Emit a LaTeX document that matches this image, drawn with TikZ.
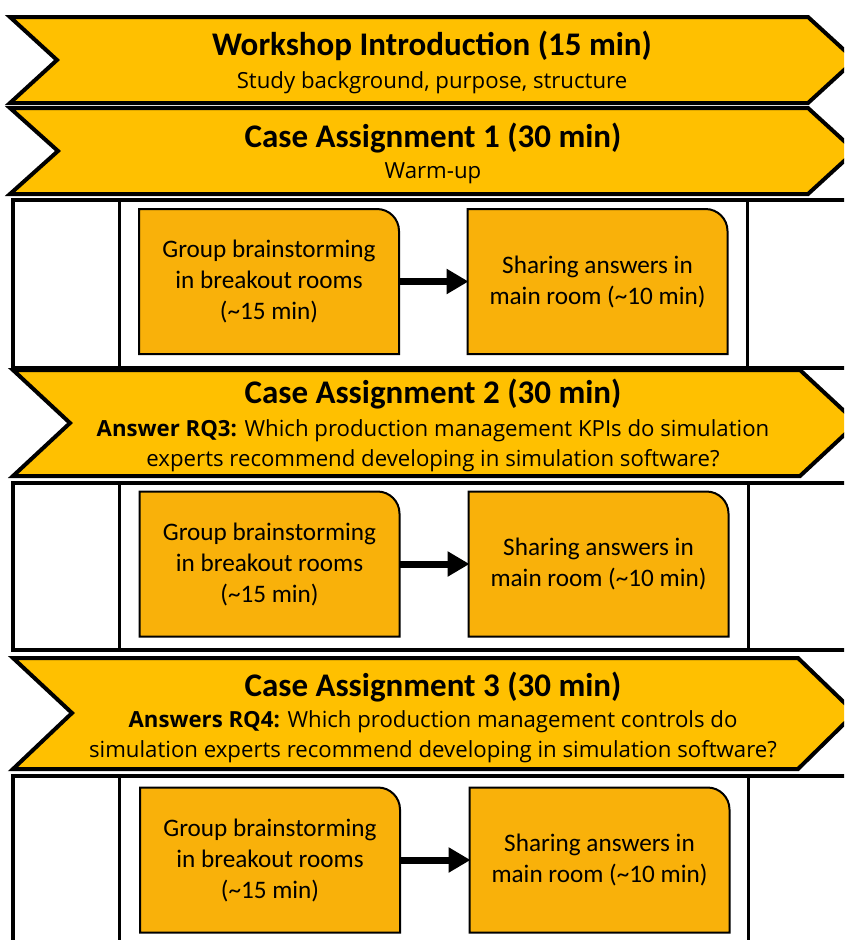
\documentclass[tikz,border=0pt]{standalone}
\usepackage{fontspec}
\setmainfont{Carlito}
\newfontfamily\bandfont{Open Sans}
\usetikzlibrary{arrows.meta,calc}
\definecolor{bandgold}{RGB}{255,192,0}
\definecolor{stepfill}{RGB}{249,177,10}
\begin{document}
\begin{tikzpicture}[x=1pt,y=-1pt,
  band/.style={draw=black,line width=4pt,fill=bandgold,line join=miter},
  frame/.style={draw=black,line width=3.5pt},
  divider/.style={draw=black,line width=3pt},
  bandtitle/.style={anchor=base,font=\fontsize{33}{36}\selectfont\bfseries,inner sep=0pt},
  bandsub/.style={anchor=base,font=\bandfont\fontsize{22.2}{26}\selectfont,inner sep=0pt},
  bandtext/.style={anchor=base,font=\bandfont\fontsize{22.2}{30}\selectfont,inner sep=0pt},
  stepbox/.style={minimum width=260pt,minimum height=145pt,inner sep=0pt,outer sep=0pt,
    align=center,font=\fontsize{25.2}{31}\selectfont},
  stepshape/.style={draw=black,line width=2pt,fill=stepfill},
  flow/.style={line width=7pt,-{Triangle[length=22pt,width=24pt]},shorten >=-1pt}]
\useasboundingbox (0,0) rectangle (844,940);
\begin{scope}
\clip (0,0) rectangle (844,940);

% --- band 1: introduction
\draw[band] (10,17) -- (808,17) -- (855,60) -- (808,103) -- (10,103) -- (57,60) -- cycle;
\node[bandtitle] (t1) at (432,55) {Workshop Introduction (15 min)};
\node[bandsub] (d1) at (432,88) {Study background, purpose, structure};

% --- band 2: case assignment 1
\draw[band] (10,108) -- (808,108) -- (855,151) -- (808,194) -- (10,194) -- (58,151) -- cycle;
\node[bandtitle] (t2) at (433,147) {Case Assignment 1 (30 min)};
\node[bandsub] (d2) at (433,178) {Warm-up};

% --- activity row 1
\draw[frame] (13,200) rectangle (880,368);
\draw[divider] (119,200) -- (119,368);
\draw[divider] (747,200) -- (747,368);
\node[stepbox] (g1) at (269,281.5) {};
\node[stepbox] (s1) at (597.5,281.5) {};
\draw[stepshape] (g1.south west) -- (g1.north west) -- ([xshift=-22pt]g1.north east)
  arc[start angle=270,end angle=360,radius=22] -- (g1.south east) -- cycle;
\draw[stepshape] (s1.south west) -- (s1.north west) -- ([xshift=-22pt]s1.north east)
  arc[start angle=270,end angle=360,radius=22] -- (s1.south east) -- cycle;
\node[stepbox] at (g1) {Group brainstorming\\in breakout rooms\\(\textasciitilde15 min)};
\node[stepbox] at (s1) {Sharing answers in\\main room (\textasciitilde10 min)};
\draw[flow] (g1) -- (s1);

% --- band 3: case assignment 2
\draw[band] (13,370) -- (800,370) -- (857,423) -- (800,476) -- (13,476) -- (70,423) -- cycle;
\node[bandtitle] (t3) at (433,403) {Case Assignment 2 (30 min)};
\node[bandtext] (q3a) at (433,436) {\textbf{Answer RQ3:} Which production management KPIs do simulation};
\node[bandtext] (q3b) at (433,466) {experts recommend developing in simulation software?};

% --- activity row 2
\draw[frame] (13,483) rectangle (880,650);
\draw[divider] (119,483) -- (119,650);
\draw[divider] (748,483) -- (748,650);
\node[stepbox] (g2) at (269.5,564) {};
\node[stepbox] (s2) at (598.5,564) {};
\draw[stepshape] (g2.south west) -- (g2.north west) -- ([xshift=-22pt]g2.north east)
  arc[start angle=270,end angle=360,radius=22] -- (g2.south east) -- cycle;
\draw[stepshape] (s2.south west) -- (s2.north west) -- ([xshift=-22pt]s2.north east)
  arc[start angle=270,end angle=360,radius=22] -- (s2.south east) -- cycle;
\node[stepbox] at (g2) {Group brainstorming\\in breakout rooms\\(\textasciitilde15 min)};
\node[stepbox] at (s2) {Sharing answers in\\main room (\textasciitilde10 min)};
\draw[flow] (g2) -- (s2);

% --- band 4: case assignment 3
\draw[band] (13,658) -- (798,658) -- (855,713) -- (798,769) -- (13,769) -- (72,713) -- cycle;
\node[bandtitle] (t4) at (433,696) {Case Assignment 3 (30 min)};
\node[bandtext] (q4a) at (433,727) {\textbf{Answers RQ4:} Which production management controls do};
\node[bandtext] (q4b) at (433,757) {simulation experts recommend developing in simulation software?};

% --- activity row 3
\draw[frame] (13,776) rectangle (880,980);
\draw[divider] (119,776) -- (119,980);
\draw[divider] (748,776) -- (748,980);
\node[stepbox] (g3) at (270,860) {};
\node[stepbox] (s3) at (599.5,860) {};
\draw[stepshape] (g3.south west) -- (g3.north west) -- ([xshift=-22pt]g3.north east)
  arc[start angle=270,end angle=360,radius=22] -- (g3.south east) -- cycle;
\draw[stepshape] (s3.south west) -- (s3.north west) -- ([xshift=-22pt]s3.north east)
  arc[start angle=270,end angle=360,radius=22] -- (s3.south east) -- cycle;
\node[stepbox] at (g3) {Group brainstorming\\in breakout rooms\\(\textasciitilde15 min)};
\node[stepbox] at (s3) {Sharing answers in\\main room (\textasciitilde10 min)};
\draw[flow] (g3) -- (s3);
\end{scope}
\end{tikzpicture}
\end{document}
